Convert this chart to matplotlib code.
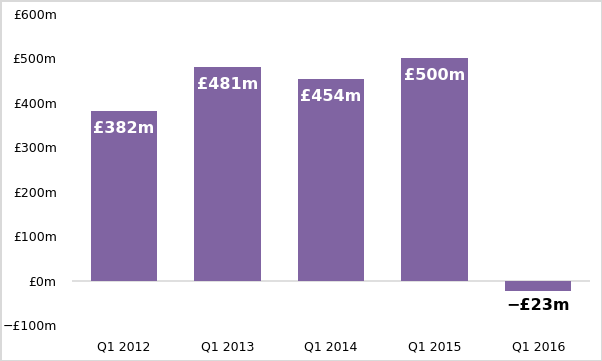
import numpy as np
import matplotlib.pyplot as plt

quarters = ['Q1 2012', 'Q1 2013', 'Q1 2014', 'Q1 2015', 'Q1 2016']
profit = [382, 481, 454, 500, -23]
yticks = [-100, 0, 100, 200, 300, 400, 500, 600]
ytick_labels = ['\u2212\u00a3100m', '\u00a30m', '\u00a3100m', '\u00a3200m', '\u00a3300m',
                '\u00a3400m', '\u00a3500m', '\u00a3600m']

fig = plt.figure(figsize=(6.02, 3.61), dpi=100)
fig.patch.set_edgecolor('#d9d9d9')
fig.patch.set_linewidth(2)
ax = fig.add_axes([72 / 602, 36 / 361, 518 / 602, 311 / 361])

x = np.arange(len(quarters))
ax.bar(x, profit, width=0.64, color='#8064A2', zorder=2)
ax.axhline(0, color='#d9d9d9', lw=1.2, zorder=1)

for xi, v in zip(x, profit):
    label = ('\u2212\u00a3%dm' % -v) if v < 0 else '\u00a3%dm' % v
    if v >= 0:
        ax.annotate(label, (xi, v), xytext=(0, -7), textcoords='offset points',
                    ha='center', va='top', color='white', fontsize=11.5,
                    fontweight='bold')
    else:
        ax.annotate(label, (xi, v), xytext=(0, -5), textcoords='offset points',
                    ha='center', va='top', color='black', fontsize=11.5,
                    fontweight='bold')

ax.set_xlim(-0.5, len(quarters) - 0.5)
ax.set_ylim(-100, 600)
ax.set_yticks(yticks)
ax.set_yticklabels(ytick_labels)
ax.set_xticks(x)
ax.set_xticklabels(quarters)
ax.tick_params(axis='both', length=0, labelsize=9, colors='black')
ax.tick_params(axis='y', pad=11)
ax.tick_params(axis='x', pad=11)
for s in ax.spines.values():
    s.set_visible(False)

plt.savefig('out.png', dpi=100)
